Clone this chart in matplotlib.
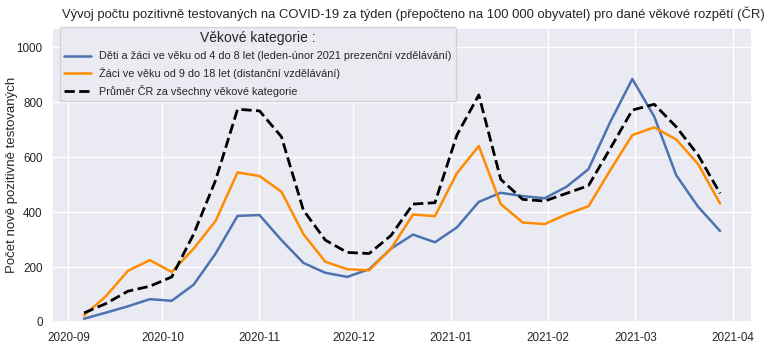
import matplotlib
matplotlib.use("Agg")
import matplotlib.pyplot as plt
import matplotlib.dates as mdates
import seaborn as sns
import pandas as pd

sns.set_theme(style="darkgrid")
plt.rcParams['font.family'] = ['Liberation Sans', 'DejaVu Sans']

weeks = pd.date_range("2020-09-06", "2021-03-28", freq="7D")

deti_4_8 = [12, 34, 57, 83, 77, 136, 249, 386, 389, 298, 215, 179, 164, 192, 267,
            318, 290, 344, 437, 470, 458, 450, 492, 556, 729, 884, 747, 534, 419, 331]
zaci_9_18 = [24, 94, 186, 225, 182, 267, 368, 544, 531, 474, 320, 219, 192, 188, 267,
             391, 385, 541, 640, 429, 362, 356, 392, 421, 553, 680, 708, 664, 574, 431]
prumer_cr = [33, 67, 112, 130, 164, 320, 516, 774, 768, 674, 407, 298, 253, 249, 315,
             429, 434, 680, 826, 519, 446, 440, 468, 496, 632, 771, 792, 710, 607, 468]

labels = ["Děti a žáci ve věku od 4 do 8 let (leden-únor 2021 prezenční vzdělávání)",
          "Žáci ve věku od 9 do 18 let (distanční vzdělávání)",
          "Průměr ČR za všechny věkové kategorie"]

fig = plt.figure(figsize=(7.68, 3.44), dpi=100)
ax = fig.add_axes([0.068, 0.064, 0.911, 0.855])
ax.plot(weeks, deti_4_8, color="#4c72b0", lw=1.8, label=labels[0])
ax.plot(weeks, zaci_9_18, color="#ff8c00", lw=1.8, label=labels[1])
ax.plot(weeks, prumer_cr, color="black", lw=2, ls="--", label=labels[2])

ax.set_ylim(0, 1070)
ax.set_yticks([0, 200, 400, 600, 800, 1000])
ax.tick_params(axis='both', labelsize=8.4, pad=1)
ax.set_ylabel("Počet nově pozitivně testovaných", fontsize=9.5)
ax.yaxis.set_label_coords(-0.049, 0.5)
ax.set_title("Vývoj počtu pozitivně testovaných na COVID-19 za týden (přepočteno na 100 000 obyvatel) pro dané věkové rozpětí (ČR)",
             fontsize=9.4, pad=7, x=0.516)
ax.xaxis.set_major_locator(mdates.MonthLocator())
ax.xaxis.set_major_formatter(mdates.DateFormatter("%Y-%m"))
leg = ax.legend(title="Věkové kategorie :", loc="upper left", fontsize=7.85,
                title_fontsize=10, borderaxespad=0.2, labelspacing=0.55,
                handlelength=2.4, bbox_to_anchor=(0.008, 1.01))
fig.savefig("out.png", dpi=100)
